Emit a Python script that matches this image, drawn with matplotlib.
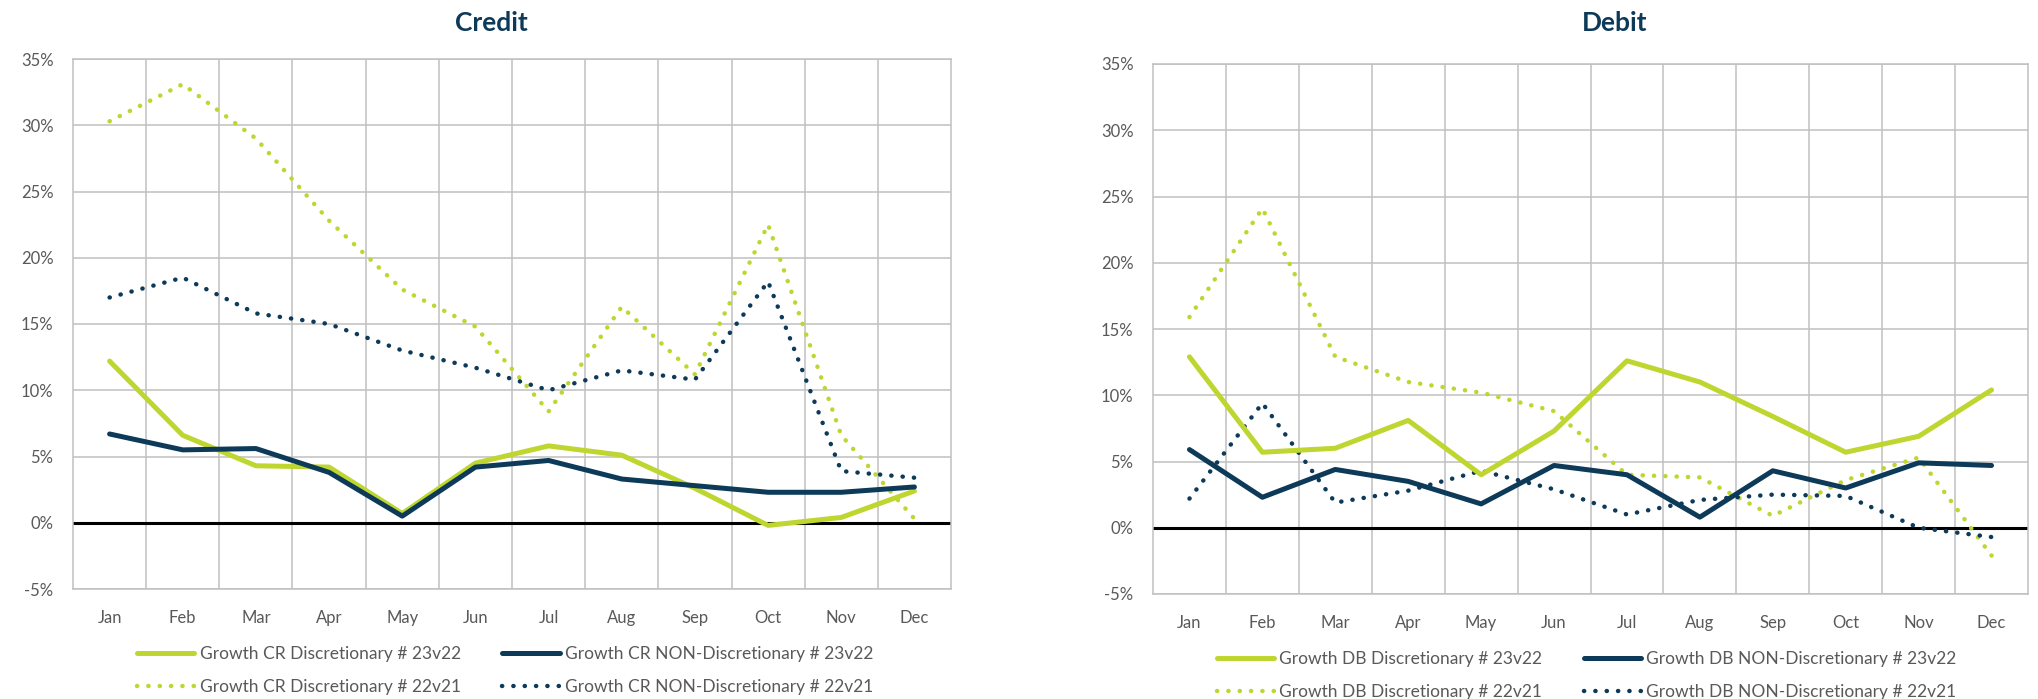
import numpy as np
import matplotlib
matplotlib.use("Agg")
import matplotlib.pyplot as plt
from matplotlib.ticker import FuncFormatter

# ==============================================================
# DATA (growth %)
# ==============================================================

months = ["Jan", "Feb", "Mar", "Apr", "May", "Jun",
          "Jul", "Aug", "Sep", "Oct", "Nov", "Dec"]

cr_disc_23v22 = [12.2, 6.6, 4.3, 4.2, 0.7, 4.5, 5.8, 5.1, 2.6, -0.2, 0.4, 2.4]
cr_non_23v22 = [6.7, 5.5, 5.6, 3.8, 0.5, 4.2, 4.7, 3.3, 2.8, 2.3, 2.3, 2.7]
cr_disc_22v21 = [30.3, 33.1, 29.0, 22.8, 17.6, 14.8, 8.4, 16.3, 11.2, 22.5, 6.6, 0.3]
cr_non_22v21 = [17.0, 18.5, 15.8, 15.0, 13.0, 11.7, 10.0, 11.5, 10.8, 18.2, 3.9, 3.4]

db_disc_23v22 = [12.9, 5.7, 6.0, 8.1, 4.0, 7.3, 12.6, 11.0, 8.4, 5.7, 6.9, 10.4]
db_non_23v22 = [5.9, 2.3, 4.4, 3.5, 1.8, 4.7, 4.0, 0.8, 4.3, 3.0, 4.9, 4.7]
db_disc_22v21 = [15.9, 24.1, 12.9, 11.0, 10.2, 8.8, 4.0, 3.8, 0.9, 3.6, 5.3, -2.1]
db_non_22v21 = [2.2, 9.4, 1.9, 2.8, 4.3, 2.9, 1.0, 2.1, 2.5, 2.4, 0.0, -0.7]

GREEN = "#BED62F"
NAVY = "#0C3A58"
GRID = "#C0C0C0"
TEXT = "#595959"

plt.rcParams["font.family"] = ["Lato", "DejaVu Sans"]

fig = plt.figure(figsize=(20.38, 6.99), dpi=100)
W, H = 2038.0, 699.0


def draw_panel(rect, title, title_x, prefix, series):
    ax = fig.add_axes(rect)
    x = np.arange(len(months))

    d23, n23, d22, n22 = series
    h1, = ax.plot(x, d23, color=GREEN, lw=3.6, solid_capstyle="round",
                  label=f"Growth {prefix} Discretionary # 23v22", zorder=4)
    h2, = ax.plot(x, n23, color=NAVY, lw=3.6, solid_capstyle="round",
                  label=f"Growth {prefix} NON-Discretionary # 23v22", zorder=4)
    h3, = ax.plot(x, d22, color=GREEN, lw=3.2, linestyle=(0, (0.05, 2.5)),
                  dash_capstyle="round",
                  label=f"Growth {prefix} Discretionary # 22v21", zorder=3)
    h4, = ax.plot(x, n22, color=NAVY, lw=3.2, linestyle=(0, (0.05, 2.5)),
                  dash_capstyle="round",
                  label=f"Growth {prefix} NON-Discretionary # 22v21", zorder=3)

    ax.axhline(0, color="black", lw=2.2, zorder=2)

    ax.set_xlim(-0.5, len(months) - 0.5)
    ax.set_ylim(-5, 35)
    ax.set_xticks(x)
    ax.set_xticklabels(months)
    ax.set_xticks(np.arange(0.5, len(months) - 0.5, 1), minor=True)
    ax.set_yticks(np.arange(-5, 36, 5))
    ax.yaxis.set_major_formatter(FuncFormatter(lambda v, _: f"{v:.0f}%"))

    ax.grid(axis="y", which="major", color=GRID, lw=1.1, zorder=0)
    ax.grid(axis="x", which="minor", color=GRID, lw=1.1, zorder=0)
    ax.tick_params(which="both", length=0)
    ax.tick_params(axis="x", pad=15, labelsize=12, labelcolor=TEXT)
    ax.tick_params(axis="y", pad=14, labelsize=12, labelcolor=TEXT)
    for sp in ax.spines.values():
        sp.set_color(GRID)
        sp.set_linewidth(1.1)

    fig.text(title_x / W, 1 - 23 / H, title, ha="center", va="center",
             fontsize=19, fontweight="bold", color=NAVY)

    # column-wise fill -> order so rows read 23v22 / 22v21
    handles = [h1, h3, h2, h4]
    leg = ax.legend(handles=handles, labels=[h.get_label() for h in handles],
                    loc="upper left", bbox_to_anchor=(0.065, -0.095), ncol=2,
                    frameon=False, fontsize=12.5, handlelength=3.3,
                    handletextpad=0.3, columnspacing=2.4, labelspacing=0.95,
                    borderaxespad=0.0)
    for t in leg.get_texts():
        t.set_color(TEXT)
    return ax


# left panel: x 73-951, y 59-589 ; right panel: x 1153-2028, y 64-594
draw_panel([73 / W, 1 - 589 / H, 878 / W, 530 / H], "Credit", 491, "CR",
           [cr_disc_23v22, cr_non_23v22, cr_disc_22v21, cr_non_22v21])
draw_panel([1153 / W, 1 - 594 / H, 875 / W, 530 / H], "Debit", 1615, "DB",
           [db_disc_23v22, db_non_23v22, db_disc_22v21, db_non_22v21])

fig.savefig("out.png", dpi=100)
